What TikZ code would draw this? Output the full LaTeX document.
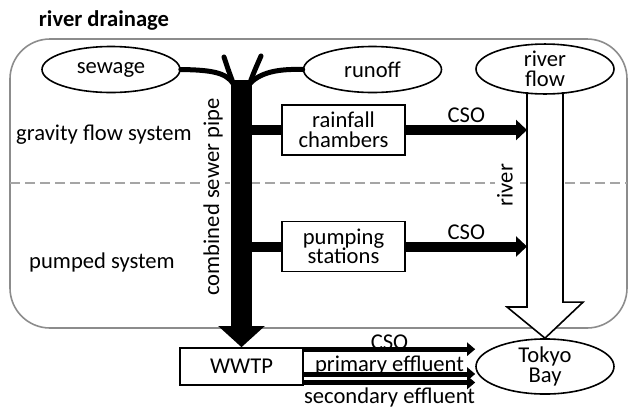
\documentclass[tikz,border=0pt]{standalone}
\usepackage{fontspec}
\setmainfont{Carlito}
\usetikzlibrary{shapes.geometric, arrows.meta, calc}
\definecolor{frame}{RGB}{140, 140, 140}
\definecolor{divider}{RGB}{165, 165, 165}
\lineskiplimit=-20pt

\begin{document}
\begin{tikzpicture}[x=0.5pt, y=-0.5pt,
  font=\fontsize{11.3}{9.8}\selectfont,
  pond/.style={draw, ellipse, line width=0.8pt, minimum width=69pt,
    minimum height=23pt, inner sep=0pt, align=center},
  chamber/.style={draw, rectangle, line width=0.8pt, minimum width=61.5pt,
    minimum height=25pt, inner sep=0pt, align=center},
  branch/.style={line width=2.5pt, line cap=round},
  bar/.style={line width=5pt},
  cso/.style={line width=5pt, -{Triangle[length=5.5pt, width=10pt]}},
  outflow/.style={line width=2.5pt, -{Triangle[length=4pt, width=6.5pt]}},
  tag/.style={inner sep=1pt}]
  \useasboundingbox (0, 0) rectangle (628, 408);

  \draw[frame, line width=0.8pt, rounded corners=20pt] (10, 39) rectangle (627, 328);
  \draw[divider, line width=1pt, dash pattern=on 5pt off 2.5pt] (10, 183) -- (627, 183);
  \node[tag, font=\fontsize{11.3}{9.8}\selectfont\bfseries] (title) at (104, 20) {river drainage};
  \node[tag] (gravity) at (104, 135) {gravity flow system};
  \node[tag] (pumped) at (102, 262) {pumped system};

  \node[pond] (sew) at (111, 69.5) {sewage};
  \node[pond] (run) at (372.5, 69.5) {runoff};
  \node[pond] (bay) at (545, 366.5) {Tokyo\\Bay};
  \node[chamber] (rain) at (343.5, 130) {rainfall\\chambers};
  \node[chamber] (pump) at (343.5, 246.5) {pumping\\stations};
  \node[chamber, minimum height=18.5pt] (wwtp) at (241.5, 366.5) {WWTP};

  % river
  \coordinate (rl) at (527, 92);
  \draw[line width=0.8pt, fill=white] (rl) -- ++(0, 215) -- ++(-20, 0) -- (bay.north)
    -- ++(38, -36) -- ++(-20, 0) -- (563, 92);
  \node[pond] (rflow) at (545, 69) {river\\flow};
  \node[tag, rotate=90, fill=white] (riv) at (505, 185) {river};

  % combined sewer pipe
  \coordinate (fork) at (241.5, 80);
  \coordinate (lprong) at (224, 57);
  \coordinate (rprong) at (261, 56);
  \node[tag, rotate=90, fill=white] (pipe) at (213, 197) {combined sewer pipe};
  \draw[branch] (sew.east) .. controls (210, 70) and (226, 72) .. ($(fork)+(-8, 4)$);
  \draw[branch] ($(fork)+(-8, 4)$) .. controls (229, 72) .. (lprong);
  \draw[branch] ($(fork)+(8, 4)$) .. controls (254, 72) .. (rprong);
  \draw[branch] ($(fork)+(8, 4)$) .. controls (262, 70) and (285, 69) .. (run.west);
  \draw[line width=10.5pt, -{Triangle[length=10.5pt, width=22.5pt]}] (fork) -- (wwtp.north);
  \draw[bar] (fork |- rain.west) -- (rain.west);
  \draw[bar] (fork |- pump.west) -- (pump.west);

  \draw[cso] (rain.east) -- (rain.east -| rl) node[tag, midway, above=0pt] {CSO};
  \draw[cso] (pump.east) -- (pump.east -| rl) node[tag, midway, above=0pt] {CSO};

  \draw[outflow] ([yshift=-1pt]wwtp.north east) -- ([yshift=-1pt]wwtp.north east -| bay.west)
    node[tag, midway, above=-2.5pt] {CSO};
  \draw[outflow] ([yshift=-3.75pt]wwtp.east) -- ([yshift=-3.75pt]wwtp.east -| bay.west)
    node[tag, midway, above=-3pt] {primary effluent};
  \draw[outflow] ([yshift=-8pt]wwtp.east) -- ([yshift=-8pt]wwtp.east -| bay.west)
    node[tag, midway, below=0.5pt] {secondary effluent};
\end{tikzpicture}
\end{document}
